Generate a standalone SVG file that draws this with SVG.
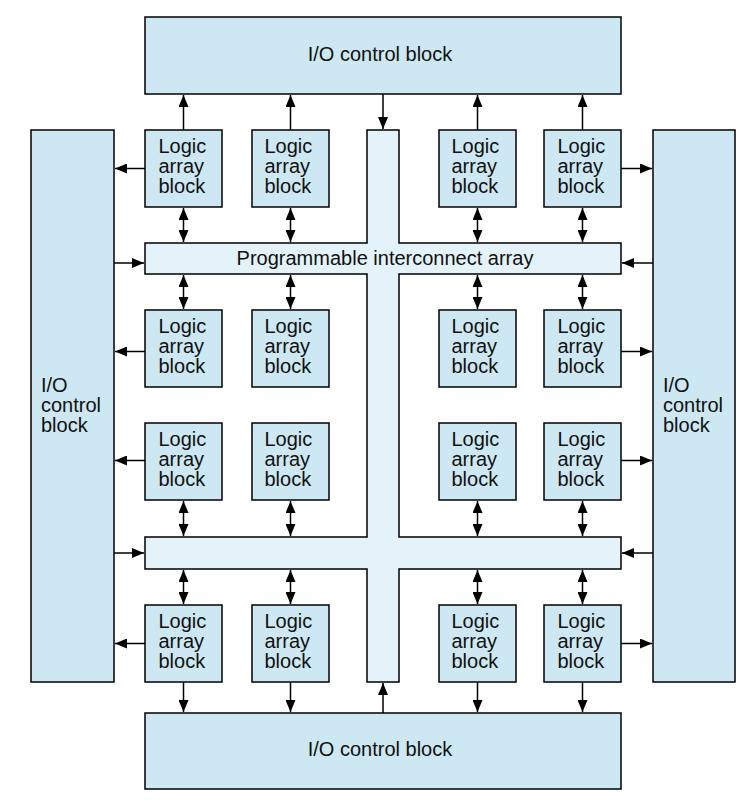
<svg xmlns="http://www.w3.org/2000/svg" width="750" height="803" viewBox="0 0 750 803">
<style>
.io{fill:#cde8f2;stroke:#000;stroke-width:1.5}
.lab{fill:#cde8f2;stroke:#000;stroke-width:1.5}
.pia{fill:#e3f3f9;stroke:#000;stroke-width:1.5}
text{font-family:"Liberation Sans",Arial,sans-serif;font-size:20px;fill:#111}
.c line{stroke:#000;stroke-width:1.5;marker-end:url(#ah)}
.c line.d{marker-start:url(#ah)}
</style>
<defs>
<marker id="ah" viewBox="0 0 12 10" refX="12" refY="5" markerWidth="12" markerHeight="10" markerUnits="userSpaceOnUse" orient="auto-start-reverse">
<path d="M0,0 L12,5 L0,10 z" fill="#000"/>
</marker>
</defs>
<rect width="750" height="803" fill="#fff"/>
<g id="io-top"><rect class="io" x="145" y="17" width="476" height="77"/><text x="380" y="61" text-anchor="middle">I/O control block</text></g>
<g id="io-bottom"><rect class="io" x="145" y="713" width="476" height="76"/><text x="380" y="756" text-anchor="middle">I/O control block</text></g>
<g id="io-left"><rect class="io" x="31" y="130" width="83" height="552"/><text><tspan x="41" y="392">I/O</tspan><tspan x="41" y="412">control</tspan><tspan x="41" y="432">block</tspan></text></g>
<g id="io-right"><rect class="io" x="653" y="130" width="82" height="552"/><text><tspan x="663" y="392">I/O</tspan><tspan x="663" y="412">control</tspan><tspan x="663" y="432">block</tspan></text></g>
<g id="pia"><path class="pia" d="M367,130 H399 V243 H621 V274 H399 V537 H621 V569 H399 V682 H367 V569 H145 V537 H367 V274 H145 V243 H367 Z"/><text x="385" y="265" text-anchor="middle">Programmable interconnect array</text></g>
<g id="lab-1-1"><rect class="lab" x="145" y="130" width="77" height="77"/><text><tspan x="158.5" y="153">Logic</tspan><tspan x="158.5" y="173">array</tspan><tspan x="158.5" y="193">block</tspan></text></g>
<g id="lab-1-2"><rect class="lab" x="252" y="130" width="77" height="77"/><text><tspan x="264.5" y="153">Logic</tspan><tspan x="264.5" y="173">array</tspan><tspan x="264.5" y="193">block</tspan></text></g>
<g id="lab-1-3"><rect class="lab" x="439" y="130" width="77" height="77"/><text><tspan x="451.5" y="153">Logic</tspan><tspan x="451.5" y="173">array</tspan><tspan x="451.5" y="193">block</tspan></text></g>
<g id="lab-1-4"><rect class="lab" x="544" y="130" width="77" height="77"/><text><tspan x="557.5" y="153">Logic</tspan><tspan x="557.5" y="173">array</tspan><tspan x="557.5" y="193">block</tspan></text></g>
<g id="lab-2-1"><rect class="lab" x="145" y="310" width="77" height="77"/><text><tspan x="158.5" y="333">Logic</tspan><tspan x="158.5" y="353">array</tspan><tspan x="158.5" y="373">block</tspan></text></g>
<g id="lab-2-2"><rect class="lab" x="252" y="310" width="77" height="77"/><text><tspan x="264.5" y="333">Logic</tspan><tspan x="264.5" y="353">array</tspan><tspan x="264.5" y="373">block</tspan></text></g>
<g id="lab-2-3"><rect class="lab" x="439" y="310" width="77" height="77"/><text><tspan x="451.5" y="333">Logic</tspan><tspan x="451.5" y="353">array</tspan><tspan x="451.5" y="373">block</tspan></text></g>
<g id="lab-2-4"><rect class="lab" x="544" y="310" width="77" height="77"/><text><tspan x="557.5" y="333">Logic</tspan><tspan x="557.5" y="353">array</tspan><tspan x="557.5" y="373">block</tspan></text></g>
<g id="lab-3-1"><rect class="lab" x="145" y="423" width="77" height="77"/><text><tspan x="158.5" y="446">Logic</tspan><tspan x="158.5" y="466">array</tspan><tspan x="158.5" y="486">block</tspan></text></g>
<g id="lab-3-2"><rect class="lab" x="252" y="423" width="77" height="77"/><text><tspan x="264.5" y="446">Logic</tspan><tspan x="264.5" y="466">array</tspan><tspan x="264.5" y="486">block</tspan></text></g>
<g id="lab-3-3"><rect class="lab" x="439" y="423" width="77" height="77"/><text><tspan x="451.5" y="446">Logic</tspan><tspan x="451.5" y="466">array</tspan><tspan x="451.5" y="486">block</tspan></text></g>
<g id="lab-3-4"><rect class="lab" x="544" y="423" width="77" height="77"/><text><tspan x="557.5" y="446">Logic</tspan><tspan x="557.5" y="466">array</tspan><tspan x="557.5" y="486">block</tspan></text></g>
<g id="lab-4-1"><rect class="lab" x="145" y="605" width="77" height="77"/><text><tspan x="158.5" y="628">Logic</tspan><tspan x="158.5" y="648">array</tspan><tspan x="158.5" y="668">block</tspan></text></g>
<g id="lab-4-2"><rect class="lab" x="252" y="605" width="77" height="77"/><text><tspan x="264.5" y="628">Logic</tspan><tspan x="264.5" y="648">array</tspan><tspan x="264.5" y="668">block</tspan></text></g>
<g id="lab-4-3"><rect class="lab" x="439" y="605" width="77" height="77"/><text><tspan x="451.5" y="628">Logic</tspan><tspan x="451.5" y="648">array</tspan><tspan x="451.5" y="668">block</tspan></text></g>
<g id="lab-4-4"><rect class="lab" x="544" y="605" width="77" height="77"/><text><tspan x="557.5" y="628">Logic</tspan><tspan x="557.5" y="648">array</tspan><tspan x="557.5" y="668">block</tspan></text></g>
<g id="connectors" class="c">
<line x1="183.5" y1="130" x2="183.5" y2="95"/>
<line x1="290.5" y1="130" x2="290.5" y2="95"/>
<line x1="477.5" y1="130" x2="477.5" y2="95"/>
<line x1="582.5" y1="130" x2="582.5" y2="95"/>
<line x1="383" y1="94" x2="383" y2="129"/>
<line x1="383" y1="713" x2="383" y2="683"/>
<line x1="183.5" y1="682" x2="183.5" y2="712"/>
<line x1="290.5" y1="682" x2="290.5" y2="712"/>
<line x1="477.5" y1="682" x2="477.5" y2="712"/>
<line x1="582.5" y1="682" x2="582.5" y2="712"/>
<line class="d" x1="183.5" y1="208" x2="183.5" y2="242"/>
<line class="d" x1="290.5" y1="208" x2="290.5" y2="242"/>
<line class="d" x1="477.5" y1="208" x2="477.5" y2="242"/>
<line class="d" x1="582.5" y1="208" x2="582.5" y2="242"/>
<line class="d" x1="183.5" y1="275" x2="183.5" y2="309"/>
<line class="d" x1="290.5" y1="275" x2="290.5" y2="309"/>
<line class="d" x1="477.5" y1="275" x2="477.5" y2="309"/>
<line class="d" x1="582.5" y1="275" x2="582.5" y2="309"/>
<line class="d" x1="183.5" y1="501" x2="183.5" y2="536"/>
<line class="d" x1="290.5" y1="501" x2="290.5" y2="536"/>
<line class="d" x1="477.5" y1="501" x2="477.5" y2="536"/>
<line class="d" x1="582.5" y1="501" x2="582.5" y2="536"/>
<line class="d" x1="183.5" y1="570" x2="183.5" y2="604"/>
<line class="d" x1="290.5" y1="570" x2="290.5" y2="604"/>
<line class="d" x1="477.5" y1="570" x2="477.5" y2="604"/>
<line class="d" x1="582.5" y1="570" x2="582.5" y2="604"/>
<line x1="145" y1="168.5" x2="115" y2="168.5"/>
<line x1="145" y1="351.5" x2="115" y2="351.5"/>
<line x1="145" y1="460.5" x2="115" y2="460.5"/>
<line x1="145" y1="643.5" x2="115" y2="643.5"/>
<line x1="621" y1="168.5" x2="652" y2="168.5"/>
<line x1="621" y1="351.5" x2="652" y2="351.5"/>
<line x1="621" y1="460.5" x2="652" y2="460.5"/>
<line x1="621" y1="643.5" x2="652" y2="643.5"/>
<line x1="114" y1="263" x2="144" y2="263"/>
<line x1="114" y1="553" x2="144" y2="553"/>
<line x1="653" y1="263" x2="622" y2="263"/>
<line x1="653" y1="553" x2="622" y2="553"/>
</g>
</svg>
